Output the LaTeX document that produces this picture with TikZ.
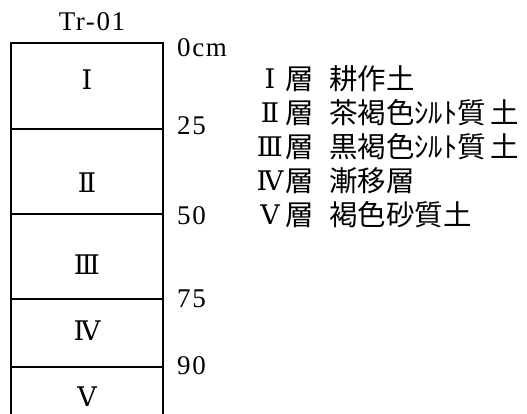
\documentclass[tikz,border=0pt]{standalone}
\usepackage{fontspec}
\setmainfont{Liberation Serif}
\newfontfamily\jpfont{Noto Sans CJK JP}
\newfontfamily\romfont{DejaVu Serif}
\begin{document}
\begin{tikzpicture}[x=1pt,y=1pt,
  lbl/.style={font=\addfontfeature{LetterSpace=6}\fontsize{27}{27}\selectfont, inner sep=0pt},
  num/.style={font=\romfont\fontsize{27}{27}\selectfont, inner sep=0pt},
  jp/.style={font=\jpfont\fontsize{28.5}{28.5}\selectfont, inner sep=0pt, anchor=west},
  layerline/.style={line width=1.3pt}]
\useasboundingbox (0,0) rectangle (527,-414);
% column outline
\coordinate (bl) at (11,-414);
\coordinate (tl) at (11,-43);
\coordinate (tr) at (163,-43);
\coordinate (br) at (163,-414);
\draw[layerline] (bl) -- (tl) -- (tr) -- (br);
\foreach \y/\n in {129/a,214/b,299/c,367/d}{
  \coordinate (l\n) at (11,-\y);
  \coordinate (r\n) at (163,-\y);
  \draw[layerline] (l\n) -- (r\n);
}
% title
\node[lbl] (title) at (92,-22) {Tr-01};
% depth labels
\node[lbl, anchor=west] (d0) at (177,-47.5) {0cm};
\node[lbl, anchor=west] (d25) at (177,-126) {25};
\node[lbl, anchor=west] (d50) at (177,-216) {50};
\node[lbl, anchor=west] (d75) at (177,-299) {75};
\node[lbl, anchor=west] (d90) at (177,-366) {90};
% layer numerals
\node[num] (n1) at (87,-80) {Ⅰ};
\node[num] (n2) at (87,-183) {Ⅱ};
\node[num] (n3) at (87,-265) {Ⅲ};
\node[num] (n4) at (87,-331) {Ⅳ};
\node[num] (n5) at (87,-397) {Ⅴ};
% legend
\foreach \i/\r/\y/\t in {1/Ⅰ/79/耕作土, 2/Ⅱ/113/茶褐色ｼﾙﾄ質\hspace{5pt}土, 3/Ⅲ/147/黒褐色ｼﾙﾄ質\hspace{5pt}土, 4/Ⅳ/181/漸移層, 5/Ⅴ/215/褐色砂質土}{
  \node[num] (k\i) at (270,-\y) {\r};
  \node[jp] (s\i) at (285,-\y) {層};
  \node[jp] (t\i) at (329,-\y) {\t};
}
\end{tikzpicture}
\end{document}
